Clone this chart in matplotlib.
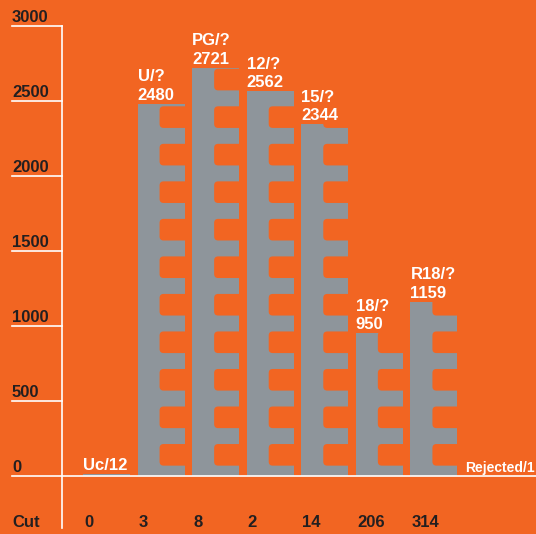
import matplotlib
matplotlib.use("Agg")
import matplotlib.pyplot as plt
from matplotlib.patches import FancyBboxPatch

plt.rcParams['font.family'] = ['Liberation Sans', 'DejaVu Sans']
plt.rcParams['font.weight'] = 'bold'

# data
names = ["Uc", "U", "PG", "12", "15", "18", "R18", "Rejected"]
values = [12, 2480, 2721, 2562, 2344, 950, 1159, 1]
known = [True, False, False, False, False, False, False, True]
cuts = ["0", "3", "8", "2", "14", "206", "314", ""]
yticks = [0, 500, 1000, 1500, 2000, 2500, 3000]

ORANGE = "#F26522"
GRAY = "#8E959B"
DARK = "#231F20"

fig = plt.figure(figsize=(5.36, 5.34), dpi=100, facecolor=ORANGE)
# axes spans the full width; y scale 0..3000
ax = fig.add_axes([0, 58 / 534, 1, 450.3 / 534])
ax.set_xlim(-1.521, 8.301)
ax.set_ylim(0, 3000)
ax.axis("off")

bw = 0.861      # bar width
stem = 0.403    # width of the solid left part
period = 250    # film-strip tooth period
gap0, gap1 = 69, 213   # notch span inside each period

# aspect for rounded corners
fig.canvas.draw()
p0 = ax.transData.transform((0, 0))
p1 = ax.transData.transform((1, 1000))
xpp = 1 / (p1[0] - p0[0])
ypp = 1000 / (p1[1] - p0[1])
asp = ypp / xpp

xs = list(range(len(names)))
ax.bar(xs, values, width=bw, align="edge", color=GRAY, zorder=2)

for x, v in zip(xs, values):
    k = 0
    while gap0 + k * period < v:
        lo = gap0 + k * period
        hi = gap1 + k * period
        notch = FancyBboxPatch((x + stem, lo), bw - stem + 4 * xpp, hi - lo,
                               boxstyle="round,pad=0,rounding_size=%f" % (4 * xpp),
                               mutation_aspect=asp, fc=ORANGE, ec="none",
                               zorder=3)
        ax.add_patch(notch)
        k += 1

# bar labels
for x, n, v, kn in zip(xs, names, values, known):
    if kn:
        txt = f"{n}/{v}"
    else:
        txt = f"{n}/?\n{v}"
    fs = 10 if n == "Rejected" else 12
    ax.annotate(txt, (x, v), xytext=(0, 4), textcoords="offset pixels",
                ha="left", va="baseline", color="white", fontsize=fs,
                fontweight="bold", linespacing=1.3, zorder=5,
                annotation_clip=False)

# axis lines
xl = -1.301
ax.plot([-0.394, -0.394], [-346, 3000], color="white", lw=1.2,
        clip_on=False, zorder=4)
for t in yticks:
    x_end = 8.301 if t == 0 else -0.394
    ax.plot([xl, x_end], [t, t], color="white", lw=1.2, clip_on=False,
            zorder=4)
    ax.annotate(str(t), (xl, t), xytext=(0, 4), textcoords="offset pixels",
                ha="left", va="baseline", color=DARK, fontsize=12,
                fontweight="bold", annotation_clip=False)

# bottom row
ax.text(xl, -340, "Cut", ha="left", va="baseline", color=DARK,
        fontsize=12, fontweight="bold", clip_on=False)
for x, c in zip(xs, cuts):
    ax.text(x + 0.02, -340, c, ha="left", va="baseline", color=DARK,
            fontsize=12, fontweight="bold", clip_on=False)

fig.savefig("out.png", dpi=100, facecolor=ORANGE)
